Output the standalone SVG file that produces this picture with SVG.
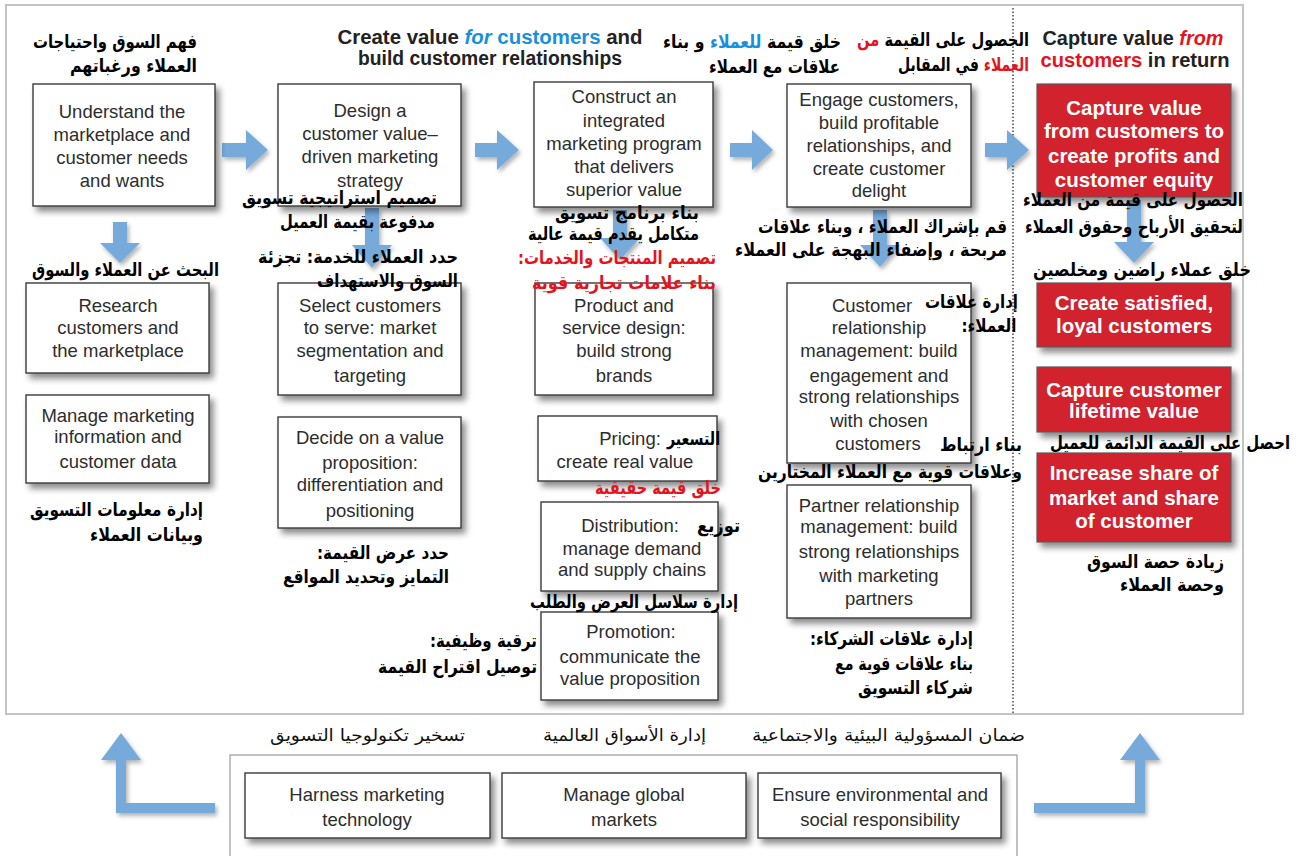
<svg xmlns="http://www.w3.org/2000/svg" width="1301" height="856" viewBox="0 0 1301 856">
<style>
.box{fill:#fff;stroke:#3a3a3a;stroke-width:1.4;filter:url(#sh)}
.rbox{fill:#d2202f;stroke:#5a5a5a;stroke-width:1.2;filter:url(#sh)}
.t{font-family:"Liberation Sans",Arial,sans-serif;font-size:18.5px;fill:#2d2d2d;text-anchor:middle}
.w{font-family:"Liberation Sans",Arial,sans-serif;font-size:20.5px;font-weight:bold;fill:#fff;text-anchor:middle}
.h{font-family:"Liberation Sans",Arial,sans-serif;font-size:19.5px;font-weight:bold;fill:#222;text-anchor:middle}
.ar{font-family:"DejaVu Sans",sans-serif;font-size:18.5px;font-weight:bold;fill:#000;text-anchor:middle;direction:rtl}
.arn{font-family:"DejaVu Sans",sans-serif;font-size:17px;fill:#111;text-anchor:middle;direction:rtl}
.red{fill:#e4141e}
.blue{fill:#1a8fdc}
.arr{fill:#76aada;filter:url(#ash)}
</style>
<defs>
<filter id="sh" x="-10%" y="-10%" width="130%" height="140%">
<feDropShadow dx="4" dy="5" stdDeviation="3" flood-color="#000" flood-opacity="0.45"/>
</filter>
<filter id="ash" x="-20%" y="-20%" width="150%" height="150%">
<feDropShadow dx="2" dy="3" stdDeviation="2" flood-color="#000" flood-opacity="0.3"/>
</filter>
</defs>
<rect width="1301" height="856" fill="#fff"/>
<rect x="6" y="5" width="1237" height="709" fill="none" stroke="#c4c4c4" stroke-width="2"/>
<line x1="1013" y1="8" x2="1013" y2="714" stroke="#444" stroke-width="1.5" stroke-dasharray="1.5 2"/>
<rect x="230" y="755" width="787" height="120" fill="#fff" stroke="#9a9a9a" stroke-width="1.2"/>

<g id="headers">
<text class="h" x="490" y="44" textLength="305" lengthAdjust="spacingAndGlyphs">Create value <tspan class="blue" font-style="italic">for</tspan><tspan class="blue"> customers</tspan> and</text>
<text class="h" x="490" y="65" textLength="264" lengthAdjust="spacingAndGlyphs">build customer relationships</text>
<text class="h" x="1133" y="45" textLength="181" lengthAdjust="spacingAndGlyphs">Capture value <tspan class="red" font-style="italic">from</tspan></text>
<text class="h" x="1135" y="67" textLength="189" lengthAdjust="spacingAndGlyphs"><tspan class="red">customers</tspan> in return</text>
<text class="ar" x="752" y="48" textLength="178" lengthAdjust="spacingAndGlyphs">خلق قيمة <tspan class="blue">للعملاء</tspan> و بناء</text>
<text class="ar" x="774.5" y="73" textLength="131" lengthAdjust="spacingAndGlyphs">علاقات مع العملاء</text>
<text class="ar" x="943" y="46" textLength="172" lengthAdjust="spacingAndGlyphs">الحصول على القيمة <tspan class="red">من</tspan></text>
<text class="ar" x="963.5" y="71" textLength="131" lengthAdjust="spacingAndGlyphs"><tspan class="red">العملاء</tspan> في المقابل</text>
</g>

<g id="connectors">
<polygon class="arr" points="222,143 246,143 246,130 268,150 246,170 246,157 222,157"/>
<polygon class="arr" points="475,143 497,143 497,130 519,150 497,170 497,157 475,157"/>
<polygon class="arr" points="730,143 752,143 752,130 773,150 752,170 752,157 730,157"/>
<polygon class="arr" points="985,143 1007,143 1007,130 1029,150 1007,170 1007,157 985,157"/>
<polygon class="arr" points="113,222 127,222 127,243 140,243 120,263 100,243 113,243"/>
<polygon class="arr" points="365,208 379,208 379,245 392,245 372,268 352,245 365,245"/>
<polygon class="arr" points="613,210 627,210 627,238 640,238 620,260 600,238 613,238"/>
<polygon class="arr" points="873,210 887,210 887,245 900,245 880,267 860,245 873,245"/>
<polygon class="arr" points="1127,200 1141,200 1141,242 1154,242 1134,263 1114,242 1127,242"/>
<polygon class="arr" points="215,803 215,813 116,813 116,760 101,760 121,733 141,760 126,760 126,803"/>
<polygon class="arr" points="1034,803 1135,803 1135,760 1120,760 1140,733 1160,760 1145,760 1145,813 1034,813"/>
</g>

<g id="understand">
<rect class="box" x="33" y="84" width="182" height="122"/>
<text class="t" x="122" y="118">Understand the</text>
<text class="t" x="122" y="141">marketplace and</text>
<text class="t" x="122" y="164">customer needs</text>
<text class="t" x="122" y="187">and wants</text>
<text class="ar" x="115" y="48" textLength="164" lengthAdjust="spacingAndGlyphs">فهم السوق واحتياجات</text>
<text class="ar" x="133.5" y="72" textLength="127" lengthAdjust="spacingAndGlyphs">العملاء ورغباتهم</text>
</g>

<g id="design">
<rect class="box" x="278" y="84" width="183" height="122"/>
<text class="t" x="370" y="117">Design a</text>
<text class="t" x="370" y="140">customer value–</text>
<text class="t" x="370" y="163">driven marketing</text>
<text class="t" x="370" y="187">strategy</text>
<text class="ar" x="339.5" y="204" textLength="195" lengthAdjust="spacingAndGlyphs">تصميم استراتيجية تسويق</text>
<text class="ar" x="357.5" y="228" textLength="155" lengthAdjust="spacingAndGlyphs">مدفوعة بقيمة العميل</text>
</g>

<g id="construct">
<rect class="box" x="534" y="82" width="179" height="125"/>
<text class="t" x="624" y="103">Construct an</text>
<text class="t" x="624" y="127">integrated</text>
<text class="t" x="624" y="150">marketing program</text>
<text class="t" x="624" y="173">that delivers</text>
<text class="t" x="624" y="196">superior value</text>
<text class="ar" x="627" y="219" textLength="144" lengthAdjust="spacingAndGlyphs">بناء برنامج تسويق</text>
<text class="ar" x="613.5" y="240" textLength="171" lengthAdjust="spacingAndGlyphs">متكامل يقدم قيمة عالية</text>
</g>

<g id="engage">
<rect class="box" x="787" y="84" width="184" height="123"/>
<text class="t" x="879" y="106">Engage customers,</text>
<text class="t" x="879" y="129">build profitable</text>
<text class="t" x="879" y="152">relationships, and</text>
<text class="t" x="879" y="175">create customer</text>
<text class="t" x="879" y="197">delight</text>
<text class="ar" x="882.5" y="233" textLength="249" lengthAdjust="spacingAndGlyphs">قم بإشراك العملاء ، وبناء علاقات</text>
<text class="ar" x="871" y="256" textLength="272" lengthAdjust="spacingAndGlyphs">مربحة ، وإضفاء البهجة على العملاء</text>
</g>

<g id="capture-value">
<rect class="rbox" x="1037" y="84" width="194" height="113"/>
<text class="w" x="1134" y="115">Capture value</text>
<text class="w" x="1134" y="138">from customers to</text>
<text class="w" x="1134" y="163">create profits and</text>
<text class="w" x="1134" y="187">customer equity</text>
<text class="ar" x="1133" y="206" textLength="220" lengthAdjust="spacingAndGlyphs">الحصول على قيمة من العملاء</text>
<text class="ar" x="1134" y="233" textLength="218" lengthAdjust="spacingAndGlyphs">لتحقيق الأرباح وحقوق العملاء</text>
</g>

<g id="research">
<rect class="box" x="26" y="283" width="183" height="90"/>
<text class="t" x="118" y="312">Research</text>
<text class="t" x="118" y="334">customers and</text>
<text class="t" x="118" y="357">the marketplace</text>
<text class="ar" x="125.5" y="276" textLength="187" lengthAdjust="spacingAndGlyphs">البحث عن العملاء والسوق</text>
</g>

<g id="manage-info">
<rect class="box" x="26" y="395" width="183" height="88"/>
<text class="t" x="118" y="422">Manage marketing</text>
<text class="t" x="118" y="443">information and</text>
<text class="t" x="118" y="468">customer data</text>
<text class="ar" x="116.5" y="516" textLength="173" lengthAdjust="spacingAndGlyphs">إدارة معلومات التسويق</text>
<text class="ar" x="146.5" y="541" textLength="113" lengthAdjust="spacingAndGlyphs">وبيانات العملاء</text>
</g>

<g id="select">
<rect class="box" x="278" y="283" width="183" height="112"/>
<text class="t" x="370" y="312">Select customers</text>
<text class="t" x="370" y="334">to serve: market</text>
<text class="t" x="370" y="357">segmentation and</text>
<text class="t" x="370" y="382">targeting</text>
<text class="ar" x="358" y="263" textLength="200" lengthAdjust="spacingAndGlyphs">حدد العملاء للخدمة: تجزئة</text>
<text class="ar" x="387.5" y="287" textLength="141" lengthAdjust="spacingAndGlyphs">السوق والاستهداف</text>
</g>

<g id="decide">
<rect class="box" x="278" y="417" width="183" height="111"/>
<text class="t" x="370" y="444">Decide on a value</text>
<text class="t" x="370" y="469">proposition:</text>
<text class="t" x="370" y="491">differentiation and</text>
<text class="t" x="370" y="517">positioning</text>
<text class="ar" x="383" y="559" textLength="132" lengthAdjust="spacingAndGlyphs">حدد عرض القيمة:</text>
<text class="ar" x="366" y="583" textLength="166" lengthAdjust="spacingAndGlyphs">التمايز وتحديد المواقع</text>
</g>

<g id="product">
<rect class="box" x="535" y="283" width="178" height="112"/>
<text class="t" x="624" y="312">Product and</text>
<text class="t" x="624" y="334">service design:</text>
<text class="t" x="624" y="357">build strong</text>
<text class="t" x="624" y="382">brands</text>
<text class="ar red" x="617" y="264" textLength="198" lengthAdjust="spacingAndGlyphs">تصميم المنتجات والخدمات:</text>
<text class="ar red" x="624" y="289" textLength="184" lengthAdjust="spacingAndGlyphs">بناء علامات تجارية قوية</text>
</g>

<g id="promotion">
<rect class="box" x="541" y="612" width="177" height="88"/>
<text class="t" x="631" y="638">Promotion:</text>
<text class="t" x="630" y="663">communicate the</text>
<text class="t" x="630" y="685">value proposition</text>
<text class="ar" x="483.5" y="647" textLength="107" lengthAdjust="spacingAndGlyphs">ترقية وظيفية:</text>
<text class="ar" x="457.5" y="673" textLength="159" lengthAdjust="spacingAndGlyphs">توصيل اقتراح القيمة</text>
</g>

<g id="distribution">
<rect class="box" x="541" y="502" width="177" height="89"/>
<text class="t" x="630" y="532">Distribution:</text>
<text class="t" x="632" y="555">manage demand</text>
<text class="t" x="632" y="576">and supply chains</text>
<text class="ar" x="718.5" y="532" textLength="43" lengthAdjust="spacingAndGlyphs">توزيع</text>
<text class="ar" x="634" y="608" textLength="208" lengthAdjust="spacingAndGlyphs">إدارة سلاسل العرض والطلب</text>
</g>

<g id="pricing">
<rect class="box" x="538" y="416" width="179" height="65"/>
<text class="t" x="630" y="445">Pricing:</text>
<text class="t" x="625" y="468">create real value</text>
<text class="ar" x="693.5" y="445" textLength="53" lengthAdjust="spacingAndGlyphs">التسعير</text>
<text class="ar red" x="658" y="494" textLength="126" lengthAdjust="spacingAndGlyphs">خلق قيمة حقيقية</text>
</g>

<g id="crm">
<rect class="box" x="787" y="283" width="184" height="180"/>
<text class="t" x="872" y="312">Customer</text>
<text class="t" x="879" y="334">relationship</text>
<text class="t" x="879" y="357">management: build</text>
<text class="t" x="879" y="382">engagement and</text>
<text class="t" x="879" y="403">strong relationships</text>
<text class="t" x="879" y="427">with chosen</text>
<text class="t" x="878" y="450">customers</text>
<text class="ar" x="971.5" y="308" textLength="93" lengthAdjust="spacingAndGlyphs">إدارة علاقات</text>
<text class="ar" x="989" y="332" textLength="55" lengthAdjust="spacingAndGlyphs">العملاء:</text>
<text class="ar" x="981" y="451" textLength="82" lengthAdjust="spacingAndGlyphs">بناء ارتباط</text>
<text class="ar" x="890" y="478" textLength="264" lengthAdjust="spacingAndGlyphs">وعلاقات قوية مع العملاء المختارين</text>
</g>

<g id="partner">
<rect class="box" x="787" y="485" width="184" height="133"/>
<text class="t" x="879" y="512">Partner relationship</text>
<text class="t" x="879" y="533">management: build</text>
<text class="t" x="879" y="558">strong relationships</text>
<text class="t" x="879" y="582">with marketing</text>
<text class="t" x="879" y="605">partners</text>
<text class="ar" x="891.5" y="645" textLength="163" lengthAdjust="spacingAndGlyphs">إدارة علاقات الشركاء:</text>
<text class="ar" x="904" y="670" textLength="138" lengthAdjust="spacingAndGlyphs">بناء علاقات قوية مع</text>
<text class="ar" x="915.5" y="694" textLength="115" lengthAdjust="spacingAndGlyphs">شركاء التسويق</text>
</g>

<g id="satisfied">
<rect class="rbox" x="1037" y="283" width="194" height="64"/>
<text class="w" x="1134" y="310">Create satisfied,</text>
<text class="w" x="1134" y="333">loyal customers</text>
<text class="ar" x="1142" y="276" textLength="218" lengthAdjust="spacingAndGlyphs">خلق عملاء راضين ومخلصين</text>
</g>

<g id="increase">
<rect class="rbox" x="1037" y="453" width="194" height="89"/>
<text class="w" x="1134" y="480">Increase share of</text>
<text class="w" x="1134" y="505">market and share</text>
<text class="w" x="1134" y="528">of customer</text>
<text class="ar" x="1155.5" y="568" textLength="137" lengthAdjust="spacingAndGlyphs">زيادة حصة السوق</text>
<text class="ar" x="1172" y="591" textLength="104" lengthAdjust="spacingAndGlyphs">وحصة العملاء</text>
</g>

<g id="lifetime">
<rect class="rbox" x="1037" y="367" width="194" height="65"/>
<text class="w" x="1134" y="397">Capture customer</text>
<text class="w" x="1134" y="418">lifetime value</text>
<text class="ar" x="1170" y="449" textLength="240" lengthAdjust="spacingAndGlyphs">احصل على القيمة الدائمة للعميل</text>
</g>

<g id="harness">
<rect class="box" x="245" y="773" width="245" height="65"/>
<text class="t" x="367" y="801">Harness marketing</text>
<text class="t" x="367" y="826">technology</text>
<text class="arn" x="367.5" y="741" textLength="195" lengthAdjust="spacingAndGlyphs">تسخير تكنولوجيا التسويق</text>
</g>

<g id="global">
<rect class="box" x="502" y="773" width="244" height="65"/>
<text class="t" x="624" y="801">Manage global</text>
<text class="t" x="624" y="826">markets</text>
<text class="arn" x="624.5" y="741" textLength="163" lengthAdjust="spacingAndGlyphs">إدارة الأسواق العالمية</text>
</g>

<g id="ensure">
<rect class="box" x="758" y="773" width="243" height="65"/>
<text class="t" x="880" y="801">Ensure environmental and</text>
<text class="t" x="880" y="826">social responsibility</text>
<text class="arn" x="888.5" y="741" textLength="273" lengthAdjust="spacingAndGlyphs">ضمان المسؤولية البيئية والاجتماعية</text>
</g>
</svg>
